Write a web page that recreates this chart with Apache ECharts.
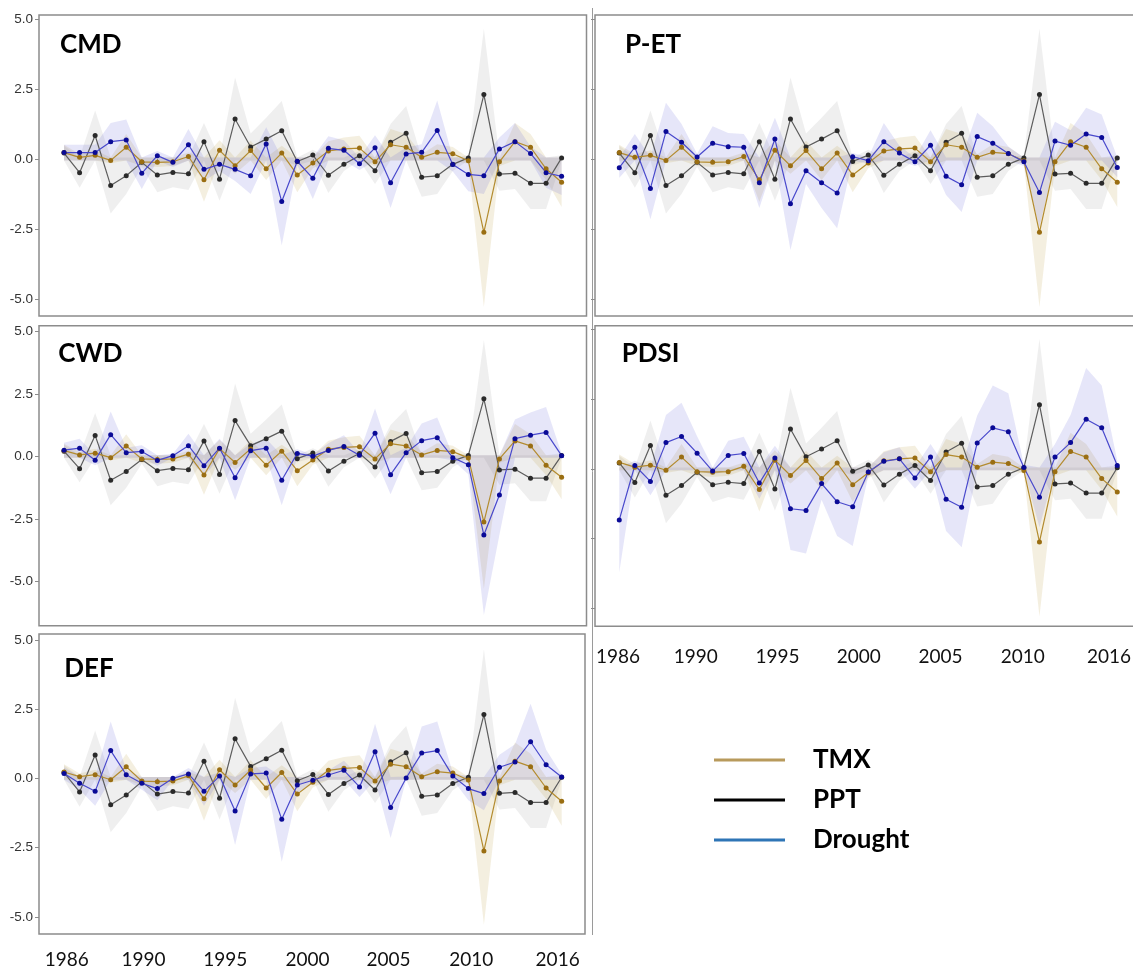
<!DOCTYPE html>
<html>
<head>
<meta charset="utf-8">
<title>Annual coefficients: TMX, PPT and drought indices</title>
<script src="https://cdn.jsdelivr.net/npm/echarts@6/dist/echarts.min.js"></script>
<style>
  html, body { margin: 0; padding: 0; background: #ffffff; }
  #chart { width: 1133px; height: 970px; }
</style>
</head>
<body>
<div id="chart"></div>
<script>
// ---- data ----------------------------------------------------------------
const years = [1984, 1985, 1986, 1987, 1988, 1989, 1990, 1991, 1992, 1993, 1994,
  1995, 1996, 1997, 1998, 1999, 2000, 2001, 2002, 2003, 2004, 2005, 2006, 2007,
  2008, 2009, 2010, 2011, 2012, 2013, 2014, 2015, 2016];

// maximum temperature (same in every panel)
const tmx = [0.23, 0.06, 0.13, -0.05, 0.42, -0.10, -0.12, -0.10, 0.09, -0.74, 0.31,
  -0.24, 0.30, -0.35, 0.21, -0.57, -0.14, 0.29, 0.36, 0.39, -0.10, 0.51, 0.42, 0.06,
  0.24, 0.19, -0.06, -2.62, -0.10, 0.62, 0.42, -0.35, -0.83];

// precipitation (same in every panel)
const ppt = [0.21, -0.49, 0.84, -0.95, -0.60, -0.12, -0.57, -0.48, -0.53, 0.62, -0.72,
  1.43, 0.43, 0.71, 1.01, -0.09, 0.14, -0.58, -0.19, 0.12, -0.42, 0.60, 0.92, -0.65,
  -0.60, -0.19, 0.04, 2.30, -0.54, -0.51, -0.87, -0.87, 0.04];

// drought index, one series per panel
const droughtCMD = [0.23, 0.23, 0.23, 0.62, 0.68, -0.51, 0.12, -0.12, 0.51, -0.37, -0.19,
  -0.37, -0.60, 0.54, -1.52, -0.08, -0.69, 0.38, 0.31, -0.17, 0.40, -0.85, 0.18, 0.24,
  1.02, -0.20, -0.55, -0.60, 0.36, 0.62, 0.20, -0.49, -0.62];
const droughtPET = [-0.31, 0.42, -1.05, 0.98, 0.60, 0.07, 0.56, 0.44, 0.42, -0.85, 0.71,
  -1.60, -0.42, -0.85, -1.21, 0.08, -0.06, 0.62, 0.21, -0.10, 0.49, -0.62, -0.92, 0.80,
  0.56, 0.20, -0.10, -1.20, 0.64, 0.49, 0.89, 0.77, -0.30];
const droughtCWD = [0.25, 0.33, -0.15, 0.87, 0.15, 0.20, -0.16, 0.03, 0.43, -0.37, 0.33,
  -0.85, 0.23, 0.33, -0.95, 0.12, 0.01, 0.24, 0.40, 0.05, 0.93, -0.73, 0.15, 0.63,
  0.75, -0.05, -0.33, -3.14, -1.54, 0.71, 0.85, 0.96, 0.03];
const droughtPDSI = [-1.83, 0.12, -0.45, 0.94, 1.16, 0.56, -0.08, 0.48, 0.55, -0.51, 0.39,
  -1.43, -1.49, -0.53, -1.18, -1.36, -0.11, 0.27, 0.36, -0.33, 0.42, -1.09, -1.38, 0.93,
  1.47, 1.33, 0.05, -1.02, 0.42, 0.94, 1.78, 1.47, 0.12];
const droughtDEF = [0.17, -0.18, -0.47, 1.00, 0.13, -0.18, -0.37, 0.00, 0.16, -0.47, 0.08,
  -1.18, 0.16, 0.19, -1.48, -0.24, -0.07, 0.12, 0.29, -0.31, 0.96, -1.05, 0.01, 0.91,
  1.00, 0.08, -0.37, -0.55, 0.40, 0.59, 1.32, 0.49, 0.05];

const panelNames = ['CMD', 'P-ET', 'CWD', 'PDSI', 'DEF'];
const seriesNames = ['PPT', 'TMX', 'Drought'];

// axis ticks and the year captions under the bottom panels
const xTickYears = [1990, 2000, 2010];
const yTicks = [-5, -2.5, 0, 2.5, 5];
const yearLabels = ['1986', '1990', '1995', '2000', '2005', '2010', '2016'];
// where each caption sits along the year axis
const leftCaptionAt = [1984.17, 1989.11, 1994.37, 1999.66, 2004.87, 2010.19, 2015.74];
const rightCaptionAt = [1983.92, 1988.91, 1994.17, 1999.39, 2004.64, 2009.93, 2015.47];

// ---- layout & style -------------------------------------------------------
const panels = [
  { name: panelNames[0], drought: droughtCMD, grid: { left: 39, top: 15, width: 547.5, height: 301 },
    x: [1982.39, 2017.60], y: [-5.607, 5.143], yLabels: true, captions: null, title: [60, 31.5] },
  { name: panelNames[1], drought: droughtPET, grid: { left: 595, top: 15, width: 540, height: 301 },
    x: [1982.44, 2017.14], y: [-5.607, 5.143], yLabels: false, captions: null, title: [625, 32] },
  { name: panelNames[2], drought: droughtCWD, grid: { left: 39, top: 325.7, width: 547.5, height: 300 },
    x: [1982.39, 2017.60], y: [-6.76, 5.22], yLabels: true, captions: null, title: [58.3, 341] },
  { name: panelNames[3], drought: droughtPDSI, grid: { left: 595, top: 325.7, width: 540, height: 300.5 },
    x: [1982.44, 2017.14], y: [-5.64, 5.13], yLabels: false, captions: rightCaptionAt, captionMargin: 21, title: [621.7, 340.5] },
  { name: panelNames[4], drought: droughtDEF, grid: { left: 39, top: 634, width: 546, height: 300 },
    x: [1982.39, 2017.50], y: [-5.62, 5.21], yLabels: true, captions: leftCaptionAt, captionMargin: 16, title: [64.3, 656] }
];

const look = {
  PPT:     { band: 'rgba(128,128,128,0.13)', line: '#5c5c5c', dot: '#2a2a2a', legend: '#000000' },
  TMX:     { band: 'rgba(190,160,70,0.17)',  line: '#b38b2e', dot: '#9a6e12', legend: '#b89a5c' },
  Drought: { band: 'rgba(80,80,210,0.14)',   line: '#4848cc', dot: '#0a0a96', legend: '#2e75b6' }
};

// The shaded interval of each yearly coefficient runs from just across zero
// out to twice the coefficient.
const PAD = 0.05;
function interval(v) {
  const far = 2 * v;
  return [Math.min(0, far) - PAD, Math.max(0, far) + PAD];
}

function bandSeries(name, values, idx) {
  const lo = values.map(v => interval(v)[0]);
  const hi = values.map(v => interval(v)[1]);
  return {
    type: 'custom',
    name: name + ' interval',
    xAxisIndex: idx, yAxisIndex: idx,
    silent: true, z: 1,
    data: years.map((yr, j) => [yr, lo[j], hi[j]]),
    encode: { x: 0, y: [1, 2] },
    renderItem: function (params, api) {
      if (params.dataIndex !== 0) return null;
      const pts = [];
      for (let j = 0; j < years.length; j++) pts.push(api.coord([years[j], hi[j]]));
      for (let j = years.length - 1; j >= 0; j--) pts.push(api.coord([years[j], lo[j]]));
      return { type: 'polygon', shape: { points: pts }, style: { fill: look[name].band } };
    }
  };
}

function lineSeries(name, values, idx) {
  return {
    type: 'line',
    name: name,
    xAxisIndex: idx, yAxisIndex: idx,
    z: 3,
    data: years.map((yr, j) => [yr, values[j]]),
    symbol: 'circle', symbolSize: 5, showSymbol: true,
    lineStyle: { color: look[name].line, width: 1.2 },
    itemStyle: { color: look[name].dot },
    emphasis: { disabled: true },
    animation: false
  };
}

const grids = [], xAxes = [], yAxes = [], titles = [], series = [];

panels.forEach((p, i) => {
  grids.push(Object.assign({
    show: true, borderColor: '#8c8c8c', borderWidth: 1.5,
    backgroundColor: 'transparent', containLabel: false, outerBoundsMode: 'none'
  }, p.grid));

  xAxes.push({
    type: 'value', gridIndex: i, min: p.x[0], max: p.x[1],
    axisLine: { show: false }, splitLine: { show: false },
    axisTick: { show: true, customValues: xTickYears, length: 4, lineStyle: { color: '#8c8c8c' } },
    axisLabel: p.captions ? {
      show: true, customValues: p.captions, margin: p.captionMargin,
      formatter: (v) => yearLabels[p.captions.indexOf(v)],
      fontFamily: 'Lato', fontSize: 19, color: '#111111'
    } : { show: false }
  });

  yAxes.push({
    type: 'value', gridIndex: i, min: p.y[0], max: p.y[1],
    axisLine: { show: false }, splitLine: { show: false },
    axisTick: { show: true, customValues: yTicks, length: 4, lineStyle: { color: '#8c8c8c' } },
    axisLabel: p.yLabels ? {
      show: true, customValues: yTicks, margin: 6,
      formatter: (v) => v.toFixed(1),
      fontFamily: 'Liberation Sans', fontSize: 13.5, color: '#333333'
    } : { show: false }
  });

  titles.push({
    text: p.name, left: p.title[0], top: p.title[1], padding: 0,
    textStyle: { fontFamily: 'Lato', fontWeight: 'bold', fontSize: 26, color: '#000000' }
  });

  const vals = { PPT: ppt, TMX: tmx, Drought: p.drought };
  seriesNames.forEach(n => series.push(bandSeries(n, vals[n], i)));
  seriesNames.forEach(n => series.push(lineSeries(n, vals[n], i)));
});

const chart = echarts.init(document.getElementById('chart'), null, { renderer: 'canvas' });
chart.setOption({
  backgroundColor: '#ffffff',
  animation: false,
  title: titles,
  grid: grids,
  xAxis: xAxes,
  yAxis: yAxes,
  legend: {
    orient: 'vertical', left: 714, top: 745, padding: 0,
    icon: 'rect', itemWidth: 71, itemHeight: 3, itemGap: 10,
    data: ['TMX', 'PPT', 'Drought'].map(n => ({ name: n, itemStyle: { color: look[n].legend } })),
    textStyle: { fontFamily: 'Lato', fontWeight: 'bold', fontSize: 26, lineHeight: 30,
      color: '#000000', padding: [0, 0, 0, 23] }
  },
  graphic: [{
    type: 'line', silent: true,
    shape: { x1: 592.5, y1: 8, x2: 592.5, y2: 935 },
    style: { stroke: '#9a9a9a', lineWidth: 1 }
  }],
  series: series
});
</script>
</body>
</html>
